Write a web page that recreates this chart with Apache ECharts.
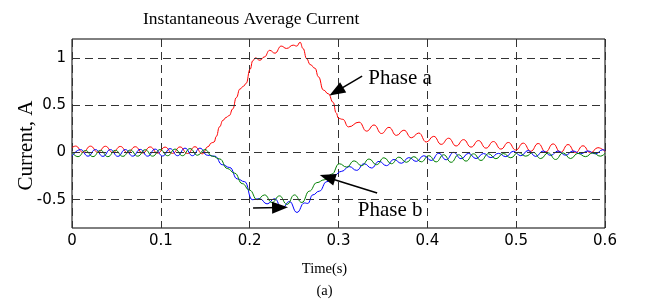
<!DOCTYPE html>
<html><head><meta charset="utf-8">
<script src="https://cdn.jsdelivr.net/npm/echarts@6/dist/echarts.min.js"></script>
<style>html,body{margin:0;padding:0;background:#fff}#c{width:645px;height:303px}</style>
</head><body><div id="c"></div>
<script>
// ---- data ----
const tA = [0, 0.004, 0.0124, 0.0208, 0.0292, 0.0376, 0.046, 0.0544, 0.0628, 0.0712, 0.0796, 0.088, 0.0964, 0.1048, 0.1132, 0.1216, 0.13, 0.1384, 0.1468,
  0.153, 0.157, 0.160, 0.1625, 0.166, 0.170, 0.1735, 0.177, 0.181, 0.185, 0.189, 0.193, 0.196, 0.2005, 0.2035, 0.2065, 0.2115, 0.2165, 0.2225, 0.2285, 0.2355, 0.2415, 0.249, 0.253, 0.2568, 0.26, 0.2643, 0.268, 0.2736, 0.2774, 0.283, 0.2886, 0.294, 0.2973, 0.300, 0.3048,
  0.3112, 0.3232, 0.3316, 0.34, 0.3484, 0.3568, 0.3652, 0.3736, 0.382, 0.3904, 0.3988, 0.4072, 0.4156, 0.424, 0.4324, 0.4408, 0.4492, 0.4576, 0.466, 0.4744, 0.4828, 0.4912, 0.4996, 0.508, 0.5164, 0.5248, 0.5332, 0.5416, 0.55, 0.5584, 0.5668, 0.5752, 0.5836, 0.592, 0.6];
const phaseA = [0.05, 0.067, 0.0, 0.066, 0.0, 0.065, -0.002, 0.063, -0.004, 0.06, -0.006, 0.058, -0.008, 0.056, -0.01, 0.058, -0.012, 0.06, -0.015,
  0.06, 0.1, 0.11, 0.17, 0.27, 0.34, 0.37, 0.39, 0.46, 0.58, 0.67, 0.70, 0.73, 0.88, 0.97, 1.0, 0.975, 1.01, 1.08, 1.05, 1.125, 1.10, 1.135, 1.125, 1.165, 1.10, 0.99, 0.93, 0.89, 0.80, 0.66, 0.62, 0.53, 0.42, 0.36, 0.35,
  0.27, 0.32, 0.225, 0.29, 0.20, 0.265, 0.18, 0.235, 0.155, 0.205, 0.11, 0.17, 0.085, 0.15, 0.068, 0.135, 0.056, 0.125, 0.045, 0.115, 0.035, 0.105, 0.025, 0.098, 0.012, 0.094, 0.005, 0.09, 0.0, 0.083, -0.003, 0.07, -0.005, 0.05, 0.01];

const tB = [0, 0.0096, 0.018, 0.0264, 0.0348, 0.0432, 0.0516, 0.06, 0.0684, 0.0768, 0.0852, 0.0936, 0.102, 0.1104, 0.1188, 0.1272, 0.1356, 0.144, 0.1524,
  0.1608, 0.1692, 0.1776, 0.186, 0.1944, 0.2028, 0.2112, 0.2196, 0.228, 0.2364, 0.2448, 0.2532, 0.2616, 0.2654, 0.271, 0.2784, 0.2868, 0.2952, 0.3036, 0.312,
  0.3204, 0.3288, 0.3372, 0.3456, 0.354, 0.3624, 0.3708, 0.3792, 0.3876, 0.396, 0.4044, 0.4128, 0.4212, 0.4296, 0.438, 0.4464, 0.4548, 0.4632, 0.4716, 0.48,
  0.4884, 0.4968, 0.5052, 0.5136, 0.522, 0.5304, 0.5388, 0.5472, 0.5556, 0.564, 0.5724, 0.5808, 0.5892, 0.5976, 0.6];
const phaseB = [-0.04, 0.03, -0.04, 0.03, -0.042, 0.03, -0.042, 0.03, -0.04, 0.032, -0.04, 0.035, -0.038, 0.04, -0.035, 0.045, -0.035, 0.045, -0.03,
  -0.04, -0.13, -0.16, -0.28, -0.31, -0.5, -0.49, -0.545, -0.49, -0.59, -0.52, -0.635, -0.535, -0.54, -0.45, -0.41, -0.31, -0.24, -0.2, -0.15,
  -0.19, -0.12, -0.165, -0.095, -0.14, -0.075, -0.115, -0.055, -0.095, -0.035, -0.085, -0.01, -0.078, 0.0, -0.067, -0.01, -0.065, -0.012, -0.055, -0.01,
  -0.045, 0.012, -0.035, 0.02, -0.043, 0.015, -0.032, 0.015, -0.03, 0.015, -0.015, 0.015, -0.015, 0.028, 0.02];

const tC = [0, 0.0068, 0.0152, 0.0236, 0.032, 0.0404, 0.0488, 0.0572, 0.0656, 0.074, 0.0824, 0.0908, 0.0992, 0.1076, 0.116, 0.1244, 0.1328, 0.1412, 0.1496, 0.158,
  0.1664, 0.1748, 0.1832, 0.1916, 0.2, 0.2084, 0.2168, 0.2252, 0.2336, 0.242, 0.2504, 0.2588, 0.2672, 0.2756, 0.284, 0.2924, 0.3008, 0.3092, 0.3176, 0.326,
  0.3344, 0.3428, 0.3512, 0.3596, 0.368, 0.3764, 0.3848, 0.3932, 0.4016, 0.41, 0.4184, 0.4268, 0.4352, 0.4436, 0.452, 0.4604, 0.4688, 0.4772, 0.4856, 0.494,
  0.5024, 0.5108, 0.5192, 0.5276, 0.536, 0.5444, 0.5528, 0.5612, 0.5696, 0.578, 0.5864, 0.5948, 0.6];
const phaseC = [0.0, -0.045, 0.02, -0.045, 0.022, -0.045, 0.022, -0.042, 0.025, -0.04, 0.028, -0.04, 0.03, -0.035, 0.035, -0.035, 0.04, -0.03, 0.03, -0.04,
  -0.07, -0.17, -0.22, -0.33, -0.4, -0.5, -0.45, -0.53, -0.46, -0.55, -0.45, -0.53, -0.41, -0.32, -0.29, -0.23, -0.12, -0.155, -0.09, -0.14,
  -0.07, -0.13, -0.057, -0.12, -0.05, -0.105, -0.045, -0.1, -0.035, -0.1, -0.025, -0.105, -0.025, -0.092, -0.015, -0.085, -0.014, -0.067, -0.012, -0.057,
  0.0, -0.04, 0.0, -0.065, -0.005, -0.075, -0.005, -0.065, -0.01, -0.045, -0.005, -0.04, -0.01];

const xTicks = [0, 0.1, 0.2, 0.3, 0.4, 0.5, 0.6];
const yTicks = [-0.5, 0, 0.5, 1];

// annotation anchors (data coordinates)
const arrowsFromTo = [
  [[0.3266, 0.808], [0.2975, 0.645]],
  [[0.3435, -0.43], [0.2875, -0.265]],
  [[0.2038, -0.588], [0.2342, -0.583]]
];
const labelsText = [
  { text: 'Phase a', at: [0.3694, 0.787] },
  { text: 'Phase b', at: [0.3581, -0.61] }
];

// ---- chart ----
const pairs = (t, v) => t.map((x, i) => [x, v[i]]);
const chart = echarts.init(document.getElementById('c'), null, { renderer: 'canvas' });
const serif = 'Liberation Serif, Times New Roman, serif';
const sans = 'DejaVu Sans, sans-serif';
const isTick = v => yTicks.some(y => Math.abs(y - v) < 1e-6);
const lineSeries = (name, t, v, color) => ({
  name, type: 'line', data: pairs(t, v), showSymbol: false, symbol: 'none',
  smooth: 0.5, smoothMonotone: 'x',
  lineStyle: { color, width: 1 }, itemStyle: { color }, z: 3
});

chart.setOption({
  animation: false,
  backgroundColor: '#fff',
  title: {
    text: 'Instantaneous Average Current', left: 138, top: 5,
    textStyle: { fontFamily: serif, fontSize: 17.5, fontWeight: 'normal', color: '#000' }
  },
  grid: { left: 72, top: 39, width: 533, height: 189, show: true, borderColor: '#000', borderWidth: 1, backgroundColor: 'transparent', outerBoundsMode: 'none' },
  xAxis: {
    type: 'value', min: 0, max: 0.6, interval: 0.1,
    name: 'Time(s)\n(a)', nameLocation: 'middle', nameGap: 30,
    nameTextStyle: { fontFamily: serif, fontSize: 14.5, color: '#000', lineHeight: 22, padding: [0, 28, 0, 0] },
    axisLine: { show: false }, axisTick: { show: false },
    axisLabel: { margin: 6, fontFamily: sans, fontSize: 15, color: '#000', formatter: v => String(Math.round(v * 10) / 10) },
    splitLine: { show: true, lineStyle: { color: '#333', width: 1, type: [8, 5] } }
  },
  yAxis: {
    type: 'value', min: -0.8, max: 1.2, interval: 0.1,
    name: 'Current, A', nameLocation: 'middle', nameGap: 35, nameRotate: 90, nameMoveOverlap: false,
    nameTextStyle: { fontFamily: serif, fontSize: 21, color: '#000', padding: [0, 24, 0, 0] },
    axisLine: { show: false }, axisTick: { show: false },
    axisLabel: { margin: 6, fontFamily: sans, fontSize: 15, color: '#000',
      formatter: v => isTick(v) ? String(Math.round(v * 10) / 10) : '' },
    splitLine: { show: false }
  },
  series: [
    { type: 'line', data: [], silent: true, z: 1,
      markLine: { silent: true, symbol: 'none', animation: false, label: { show: false },
        lineStyle: { color: '#333', width: 1, type: [8, 5] },
        data: yTicks.map(y => ({ yAxis: y })) } },
    lineSeries('Phase a', tA, phaseA, '#ff0000'),
    lineSeries('Phase b', tB, phaseB, '#0000ff'),
    lineSeries('Phase c', tC, phaseC, '#008000'),
    { type: 'line', data: [], silent: true, z: 5,
      markLine: { silent: true, animation: false, symbol: ['none', 'triangle'], symbolSize: [12, 16],
        label: { show: false }, lineStyle: { color: '#000', width: 1.5, type: 'solid' },
        data: arrowsFromTo.map(([a, b]) => [{ coord: a }, { coord: b }]) },
      markPoint: { silent: true, animation: false, symbol: 'rect', symbolSize: 1, itemStyle: { color: 'rgba(0,0,0,0)' },
        label: { show: true, position: 'inside', fontFamily: serif, fontSize: 21, color: '#000' },
        data: labelsText.map(l => ({ coord: l.at, value: l.text, label: { formatter: l.text } })) } }
  ]
});
</script></body></html>
